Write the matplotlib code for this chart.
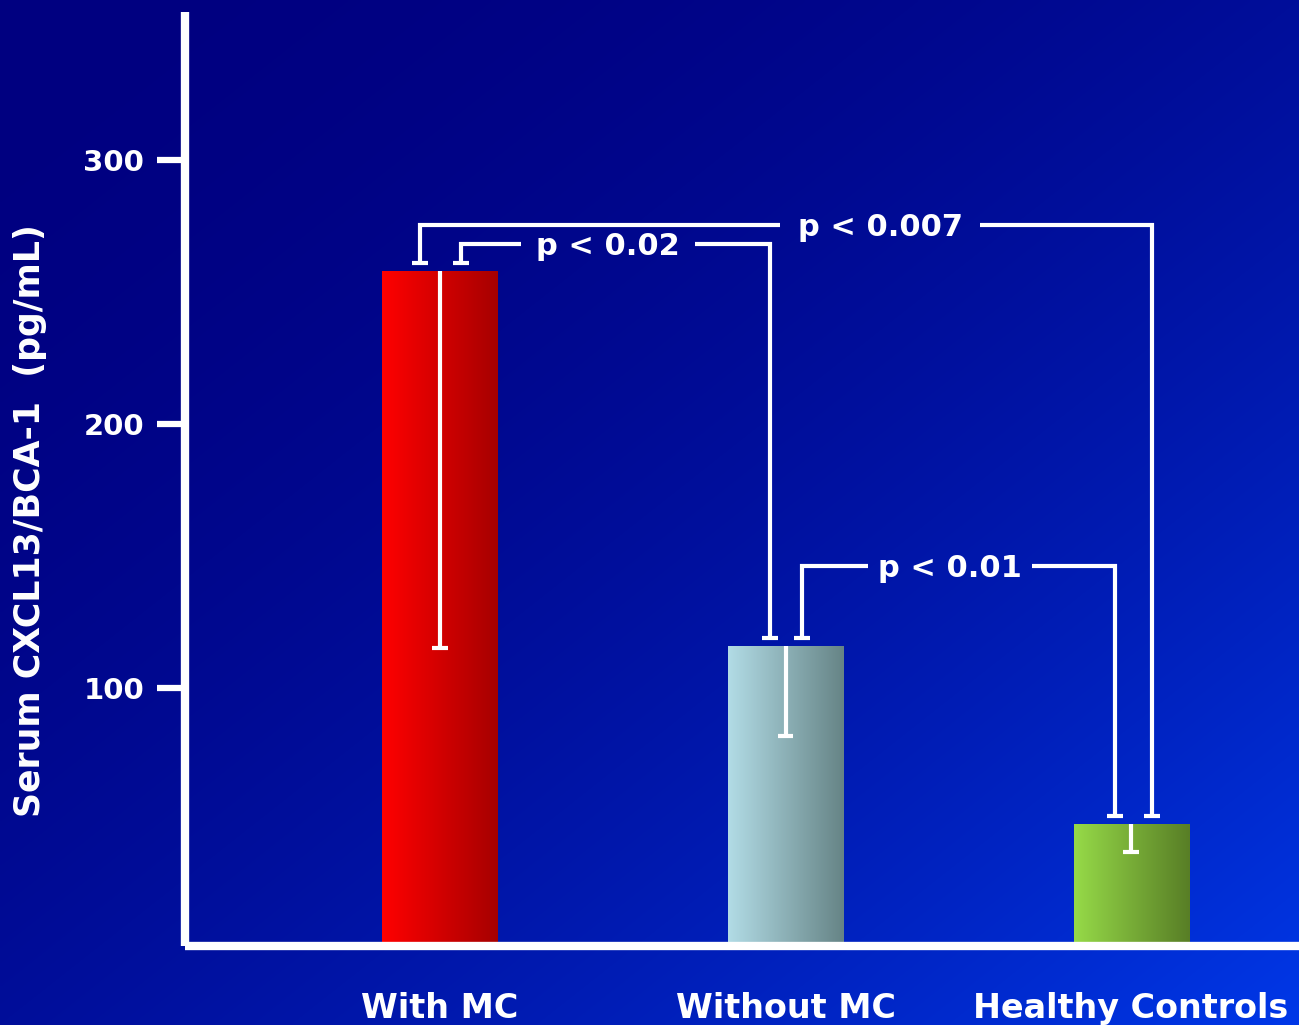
import numpy as np
import matplotlib
matplotlib.use("Agg")
import matplotlib.pyplot as plt
from matplotlib.colors import to_rgb

# group means and the lower end of each error bar (pg/mL)
groups = ["With MC", "Without MC", "Healthy Controls"]
means = [258, 116, 48.5]
lower = [115, 82, 38]
left_colors = ["#ff0000", "#b2dce6", "#96da48"]
right_colors = ["#a60000", "#668486", "#587e26"]

# pairwise comparisons: (group a, group b, p-value text)
pairs = [(0, 2, "p < 0.007"), (0, 1, "p < 0.02"), (1, 2, "p < 0.01")]
yticks = [100, 200, 300]

plt.rcParams["font.family"] = "DejaVu Sans"
plt.rcParams["font.weight"] = "bold"

fig = plt.figure(figsize=(12.99, 10.25), dpi=100)

# diagonal navy -> blue backdrop
bg = fig.add_axes([0, 0, 1, 1])
bg.axis("off")
gx, gy = np.meshgrid(np.linspace(0, 1, 400), np.linspace(0, 1, 320))
t = ((gx + gy) / 2) ** 2
c0 = np.array([0, 0, 128]) / 255
c1 = np.array([0, 56, 232]) / 255
bg.imshow(c0 + t[..., None] * (c1 - c0), extent=[0, 1, 0, 1], aspect="auto",
          interpolation="bilinear")
bg.set_xlim(0, 1)
bg.set_ylim(0, 1)

ax = fig.add_axes([184.5 / 1299, 79 / 1025, 1 - 184.5 / 1299, (946 - 11.5) / 1025])
ax.patch.set_alpha(0)
ylo, yhi = 2.3, 356.2
xlo, xhi = -0.7395, 2.486

x = np.arange(len(groups))
width = 0.333
bars = ax.bar(x, np.array(means) - ylo, width, bottom=ylo, color="none", zorder=2)
for bar, ca, cb in zip(bars, left_colors, right_colors):
    grad = np.linspace(to_rgb(ca), to_rgb(cb), 256)[None, :, :]
    x0 = bar.get_x()
    im = ax.imshow(grad, extent=[x0, x0 + bar.get_width(), ylo, bar.get_y() + bar.get_height()],
                   aspect="auto", zorder=2, interpolation="bilinear")
    im.set_clip_path(bar)

# downward error bars
cap = 0.046
ax.vlines(x, lower, means, color="white", lw=3, zorder=3)
ax.hlines(lower, x - cap / 2, x + cap / 2, color="white", lw=3, zorder=3)

# significance brackets
offsets = {(0, 2): (-0.058, 0.061), (0, 1): (0.061, -0.045), (1, 2): (0.048, -0.046)}
tops = {(0, 2): 275.5, (0, 1): 268.2, (1, 2): 146.2}
text_x = {(0, 2): 1.274, (0, 1): 0.486, (1, 2): 1.476}
gaps = {(0, 2): 0.289, (0, 1): 0.252, (1, 2): 0.237}
for a, b, label in pairs:
    key = (a, b)
    lx = x[a] + offsets[key][0]
    rx = x[b] + offsets[key][1]
    lend = means[a] + 3
    rend = means[b] + 3
    top = tops[key]
    tx = text_x[key]
    g = gaps[key]
    kw = dict(color="white", lw=3, solid_capstyle="butt", solid_joinstyle="miter", zorder=3)
    ax.plot([lx, lx, tx - g], [lend, top, top], **kw)
    ax.plot([tx + g, rx, rx], [top, top, rend], **kw)
    ax.hlines([lend, rend], [lx - cap / 2, rx - cap / 2], [lx + cap / 2, rx + cap / 2],
              color="white", lw=3, zorder=3)
    ax.text(tx, top - 1, label, color="white", fontsize=22, fontweight="bold",
            ha="center", va="center")

ax.set_xlim(xlo, xhi)
ax.set_ylim(ylo, yhi)
for side in ["top", "right"]:
    ax.spines[side].set_visible(False)
for side in ["left", "bottom"]:
    ax.spines[side].set_color("white")
    ax.spines[side].set_linewidth(6)
    ax.spines[side].set_capstyle("butt")

ax.set_yticks(yticks)
ax.set_yticklabels([str(v) for v in yticks])
ax.tick_params(axis="y", colors="white", length=20, width=4.5, pad=9, labelsize=21)
ax.set_xticks(x)
ax.set_xticklabels(groups)
ax.tick_params(axis="x", colors="white", length=0, pad=33, labelsize=24)
for lab in ax.get_xticklabels() + ax.get_yticklabels():
    lab.set_fontweight("bold")

fig.text(30 / 1299, 1 - 521 / 1025, "Serum CXCL13/BCA-1  (pg/mL)", rotation=90,
         color="white", fontsize=25, fontweight="bold", ha="center", va="center")

fig.savefig("out.png", dpi=100)
